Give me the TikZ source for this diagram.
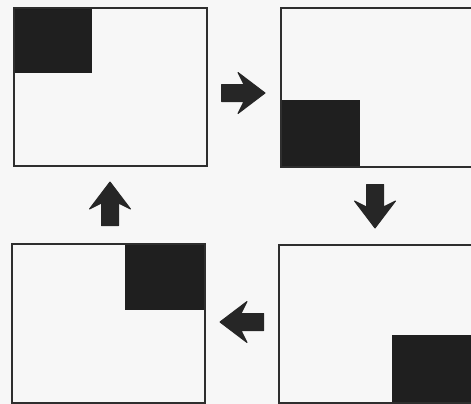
\documentclass[tikz,border=0pt]{standalone}
\begin{document}
\begin{tikzpicture}[x=1pt,y=-1pt,
  frame/.style={draw=black!82, line width=1.6pt},
  darkq/.style={fill=black!88},
  pics/blockarrow/.style={code={
    \filldraw[black!85, line width=1pt, line join=round] (0,0) -- (-27,20.5) -- (-21,8.5) -- (-43.5,8.5) -- (-43.5,-8.5) -- (-21,-8.5) -- (-27,-20.5) -- cycle;}}]
\useasboundingbox (0,0) rectangle (471,404);
\clip (0,0) rectangle (471,404);
\fill[black!3] (0,0) rectangle (471,404);
% square 1 (top left)
\fill[darkq] (13,7) rectangle (92,73);
\node[frame, minimum width=193pt, minimum height=158pt, anchor=north west, inner sep=0pt] (s1) at (13,7) {};
% square 2 (top right)
\fill[darkq] (280,100) rectangle (360,166);
\node[frame, minimum width=193pt, minimum height=159pt, anchor=north west, inner sep=0pt] (s2) at (280,7) {};
% square 3 (bottom left)
\fill[darkq] (125,243) rectangle (204,310);
\node[frame, minimum width=193pt, minimum height=159pt, anchor=north west, inner sep=0pt] (s3) at (11,243) {};
% square 4 (bottom right)
\fill[darkq] (392,335) rectangle (472,402);
\node[frame, minimum width=193pt, minimum height=158pt, anchor=north west, inner sep=0pt] (s4) at (278,244) {};
% arrows
\pic (a1) at (265,93) {blockarrow};
\pic[rotate=-90] (a2) at (375,228) {blockarrow};
\pic[rotate=180] (a3) at (220,322) {blockarrow};
\pic[rotate=90] (a4) at (110,182) {blockarrow};
\end{tikzpicture}
\end{document}
